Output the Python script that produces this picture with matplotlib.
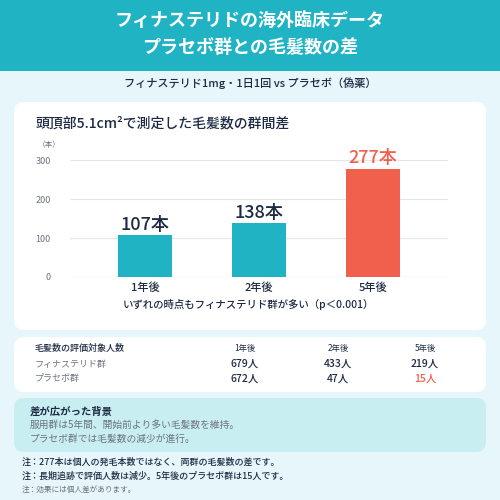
import matplotlib
matplotlib.use('Agg')
from matplotlib import pyplot as plt
from matplotlib.patches import FancyBboxPatch, Rectangle

plt.rcParams['font.family'] = ['Noto Sans CJK JP', 'DejaVu Sans']

# data
years = ['1年後', '2年後', '5年後']
diff = [107, 138, 277]
n_finasteride = [679, 433, 219]
n_placebo = [672, 47, 15]

TEAL = '#1fb3c4'
RED = '#f0604d'
NAVY = '#1d2a44'
GREY = '#6b7280'

fig = plt.figure(figsize=(5, 5), dpi=100)
fig.patch.set_facecolor('#e6f6fa')


def px(x, y):
    return x / 500, 1 - y / 500


def text(x, y, s, **kw):
    fx, fy = px(x, y)
    fig.text(fx, fy, s, zorder=5, **kw)


def box(x0, y0, x1, y1, color):
    fx, fy = px(x0, y1)
    p = FancyBboxPatch((fx, fy), (x1 - x0) / 500, (y1 - y0) / 500,
                       boxstyle='round,pad=0,rounding_size=0.02',
                       transform=fig.transFigure, fc=color, ec='none', zorder=-1)
    fig.patches.append(p)


# header
fig.patches.append(Rectangle((0, 1 - 71 / 500), 1, 71 / 500, transform=fig.transFigure,
                             fc=TEAL, ec='none', zorder=-1))
text(250, 20, 'フィナステリドの海外臨床データ', ha='center', va='center', color='white',
     fontsize=13, fontweight='bold')
text(250, 47, 'プラセボ群との毛髪数の差', ha='center', va='center', color='white',
     fontsize=13, fontweight='bold')
text(250, 83, 'フィナステリド1mg・1日1回 vs プラセボ（偽薬）', ha='center', va='center',
     color=NAVY, fontsize=8, fontweight='medium')

# chart card
box(14, 102, 486, 330, 'white')
text(35, 123, '頭頂部5.1cm²で測定した毛髪数の群間差', ha='left', va='center',
     color=NAVY, fontsize=10, fontweight='medium')
text(38, 145, '（本）', ha='left', va='center', color=GREY, fontsize=5.5)

ax = fig.add_axes([70 / 500, 1 - 277 / 500, 378 / 500, 117 / 500], zorder=3)
ax.set_facecolor('none')
xs = range(len(years))
colors = [TEAL, TEAL, RED]
ax.bar(xs, diff, width=0.48, color=colors, zorder=2)
for x, v, c in zip(xs, diff, colors):
    ax.text(x, v + 4, f'{v}本', ha='center', va='bottom', fontsize=13,
            color=NAVY if c == TEAL else RED, fontweight='medium')
ax.set_xlim(-0.66, 2.66)
ax.set_ylim(0, 300)
ax.set_yticks([0, 100, 200, 300])
ax.grid(axis='y', color='#e5e7eb', lw=0.8, zorder=0)
ax.tick_params(axis='y', length=0, labelsize=6.5, labelcolor=GREY, pad=14)
ax.tick_params(axis='x', length=0, labelsize=8, labelcolor=NAVY)
ax.set_xticks(list(xs))
ax.set_xticklabels(years, fontweight='medium')
for s in ax.spines.values():
    s.set_visible(False)
ax.axhline(0, color='#9ca3af', lw=0.8, zorder=3)
text(248, 305, 'いずれの時点もフィナステリド群が多い（p＜0.001）', ha='center', va='center',
     color=NAVY, fontsize=7.5, fontweight='medium')

# table card
box(14, 337, 486, 392, 'white')
cols = [245, 338, 425]
text(35, 348, '毛髪数の評価対象人数', ha='left', va='center', color=NAVY, fontsize=6.5,
     fontweight='medium')
text(35, 364, 'フィナステリド群', ha='left', va='center', color=GREY, fontsize=6.5)
text(35, 379, 'プラセボ群', ha='left', va='center', color=GREY, fontsize=6.5)
for i, c in enumerate(cols):
    text(c, 348, years[i], ha='center', va='center', color=NAVY, fontsize=6)
    text(c, 364, f'{n_finasteride[i]}人', ha='center', va='center', color=NAVY,
         fontsize=7.5, fontweight='medium')
    text(c, 379, f'{n_placebo[i]}人', ha='center', va='center',
         color=RED if i == 2 else NAVY, fontsize=7.5, fontweight='medium')

# background card
box(14, 398, 486, 452, '#c8eef2')
text(30, 412, '差が広がった背景', ha='left', va='center', color=NAVY, fontsize=7.5,
     fontweight='bold')
text(30, 425, '服用群は5年間、開始前より多い毛髪数を維持。', ha='left', va='center',
     color=GREY, fontsize=7)
text(30, 439, 'プラセボ群では毛髪数の減少が進行。', ha='left', va='center',
     color=GREY, fontsize=7)

# notes
text(22, 462, '注：277本は個人の発毛本数ではなく、両群の毛髪数の差です。', ha='left',
     va='center', color=NAVY, fontsize=6.5, fontweight='medium')
text(22, 476, '注：長期追跡で評価人数は減少。5年後のプラセボ群は15人です。', ha='left',
     va='center', color=NAVY, fontsize=6.5, fontweight='medium')
text(22, 490, '注：効果には個人差があります。', ha='left', va='center', color=GREY, fontsize=5.5)

fig.savefig('out.png', dpi=100, facecolor=fig.get_facecolor())
